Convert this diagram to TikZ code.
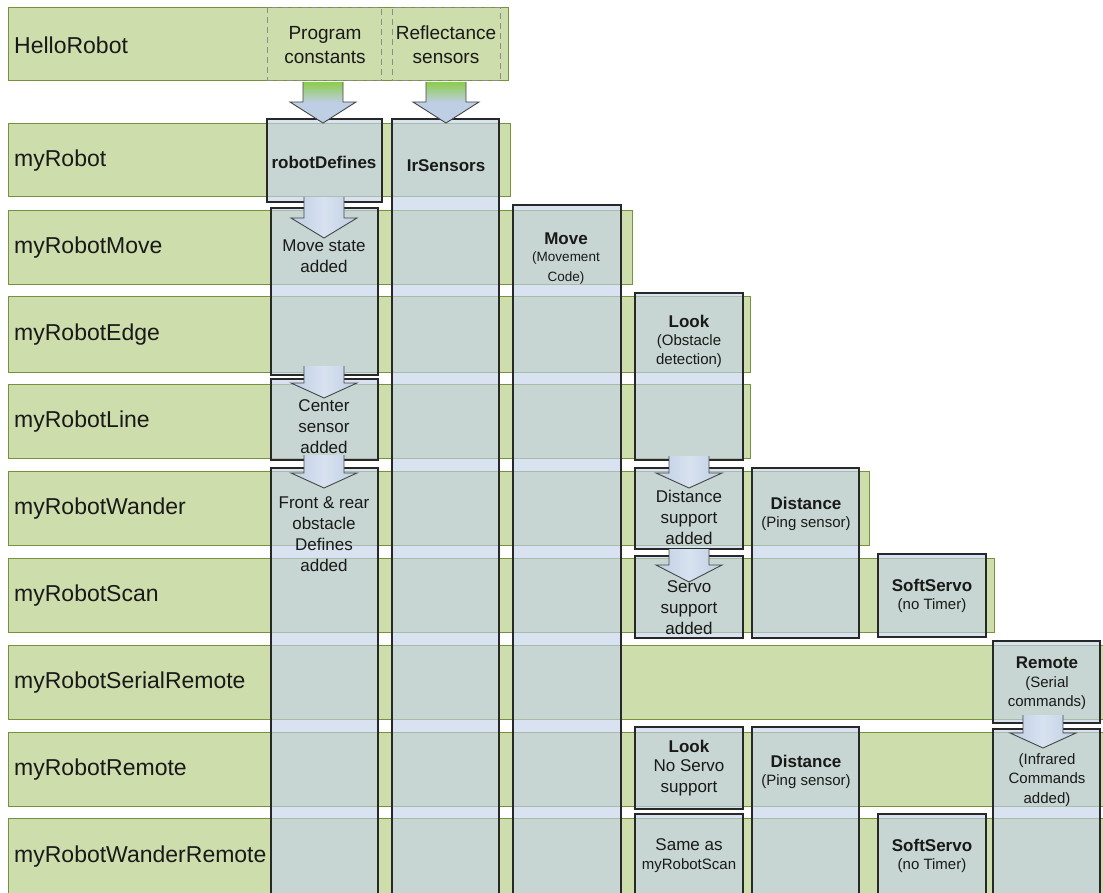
\documentclass[tikz,border=0pt]{standalone}
\usepackage{fontspec}
\setmainfont{Liberation Sans}
\definecolor{rowfill}{RGB}{205,221,172}
\definecolor{rowline}{RGB}{118,146,60}
\definecolor{colfill}{RGB}{197,211,232}
\definecolor{colline}{RGB}{40,40,40}
\definecolor{arrline}{RGB}{70,70,70}
\definecolor{agreen}{RGB}{140,205,75}
\definecolor{ablue}{RGB}{190,206,228}
\definecolor{alight}{RGB}{216,226,240}
\definecolor{txtc}{RGB}{25,25,25}
\definecolor{dashc}{RGB}{140,140,140}
\newcommand\bx[6]{\node[#2, minimum width={#5-#3}, minimum height={#6-#4}, anchor=north west] (#1) at (#3,#4) {};}
\newcommand\barrow[5]{%
  \path[#1] ({#2-20},#3) -- ({#2+20},#3) -- ({#2+20},#4) -- ({#2+33},#4) -- (#2,#5) -- ({#2-33},#4) -- ({#2-20},#4) -- cycle;
  \draw[arrowline] ({#2-20},#3) -- ({#2-20},#4) -- ({#2-33},#4) -- (#2,#5) -- ({#2+33},#4) -- ({#2+20},#4) -- ({#2+20},#3);}
\begin{document}
\begin{tikzpicture}[x=1pt,y=-1pt,
  rowbox/.style={draw=rowline, fill=rowfill, line width=1pt, inner sep=0pt, outer sep=0pt},
  dashbox/.style={draw=dashc, dashed, dash pattern=on 6pt off 4pt, line width=1pt, inner sep=0pt, outer sep=0pt},
  colbox/.style={draw=colline, fill=colfill, fill opacity=0.64, draw opacity=1, line width=1.3pt, inner sep=0pt, outer sep=0pt},
  arrowline/.style={draw=arrline, line width=0.9pt, line join=miter},
  greenarr/.style={shade, top color=agreen, bottom color=ablue, middle color=ablue},
  bluearr/.style={shade, left color=ablue, right color=ablue, middle color=alight},
  lbl/.style={anchor=west, inner sep=0pt, text=txtc, font=\fontsize{23}{28}\selectfont},
  big/.style={align=center, inner sep=0pt, text=txtc, font=\fontsize{19}{24}\selectfont},
  ttl/.style={align=center, inner sep=0pt, text=txtc, font=\bfseries\fontsize{17}{21}\selectfont},
  txt/.style={align=center, inner sep=0pt, text=txtc, font=\fontsize{17}{21}\selectfont},
  sub/.style={align=center, inner sep=0pt, text=txtc, font=\fontsize{15}{19.5}\selectfont},
  tiny/.style={align=center, inner sep=0pt, text=txtc, font=\fontsize{13.5}{20}\selectfont}]
\useasboundingbox (0,0) rectangle (1103,893);
\clip (0,0) rectangle (1103,893);
\fill[white] (0,0) rectangle (1103,893);
% rows
\bx{r0}{rowbox}{8}{8}{508}{81}
\bx{r1}{rowbox}{8}{124}{510}{197}
\bx{r2}{rowbox}{8}{211}{632}{285}
\bx{r3}{rowbox}{8}{297}{750}{372}
\bx{r4}{rowbox}{8}{384}{750}{458}
\bx{r5}{rowbox}{8}{471}{869}{545}
\bx{r6}{rowbox}{8}{558}{994}{632}
\bx{r7}{rowbox}{8}{645}{1115}{719}
\bx{r8}{rowbox}{8}{732}{1115}{806}
\bx{r9}{rowbox}{8}{818}{1115}{905}
% dashed sub-boxes
\bx{pc}{dashbox}{267}{8}{381}{81}
\bx{rs}{dashbox}{392}{8}{500}{81}
% column boxes
\bx{c1a}{colbox}{267}{119}{382}{202}
\bx{c1b}{colbox}{271}{208}{378}{375}
\bx{c1c}{colbox}{271}{379}{378}{460}
\bx{c1d}{colbox}{271}{468}{378}{905}
\bx{c2}{colbox}{392}{119}{499}{905}
\bx{c3}{colbox}{513}{205}{621}{905}
\bx{c4a}{colbox}{635}{293}{743}{460}
\bx{c4b}{colbox}{635}{468}{743}{549}
\bx{c4c}{colbox}{635}{556}{743}{638}
\bx{c4d}{colbox}{635}{727}{743}{809}
\bx{c4e}{colbox}{635}{814}{743}{905}
\bx{c5a}{colbox}{752}{468}{859}{638}
\bx{c5b}{colbox}{752}{727}{859}{905}
\bx{c6a}{colbox}{878}{554}{986}{637}
\bx{c6b}{colbox}{878}{814}{986}{905}
\bx{c7a}{colbox}{993}{641}{1100}{723}
\bx{c7b}{colbox}{993}{729}{1100}{905}
% arrows
\barrow{greenarr}{323}{82}{102}{123}
\barrow{greenarr}{446}{82}{102}{123}
\barrow{bluearr}{324}{197}{218}{238}
\barrow{bluearr}{324}{366}{383}{398}
\barrow{bluearr}{324}{455}{473}{488}
\barrow{bluearr}{689}{456}{473}{488}
\barrow{bluearr}{689}{549}{565}{582}
\barrow{bluearr}{1043}{715}{733}{748}
% row labels
\node[lbl] (l0) at (14,45) {HelloRobot};
\node[lbl] (l1) at (14,161) {myRobot};
\node[lbl] (l2) at (14,248) {myRobotMove};
\node[lbl] (l3) at (14,335) {myRobotEdge};
\node[lbl] (l4) at (14,422) {myRobotLine};
\node[lbl] (l5) at (14,509) {myRobotWander};
\node[lbl] (l6) at (14,596) {myRobotScan};
\node[lbl] (l7) at (14,683) {myRobotSerialRemote};
\node[lbl] (l8) at (14,770) {myRobotRemote};
\node[lbl] (l9) at (14,857) {myRobotWanderRemote};
% texts
\node[big] (tpc) at (325,45) {Program\\constants};
\node[big] (trs) at (446,45) {Reflectance\\sensors};
\node[ttl] (trd) at (324,162) {robotDefines};
\node[ttl] (tir) at (446,166) {IrSensors};
\node[txt] (tms) at (324,256) {Move state\\added};
\node[ttl] (tmv) at (566,239) {Move};
\node[tiny] (tmc) at (566,268) {(Movement\\Code)};
\node[ttl] (tlk) at (689,321) {Look};
\node[sub] (tod) at (689,351) {(Obstacle\\detection)};
\node[txt] (tcs) at (324,427) {Center\\sensor\\added};
\node[txt] (tfr) at (324,534) {Front \& rear\\obstacle\\Defines\\added};
\node[txt] (tds) at (689,517) {Distance\\support\\added};
\node[ttl] (tdi) at (806,503) {Distance};
\node[sub] (tps) at (806,524) {(Ping sensor)};
\node[txt] (tss) at (689,608) {Servo\\support\\added};
\node[ttl] (tso) at (932,585) {SoftServo};
\node[sub] (tnt) at (932,606) {(no Timer)};
\node[ttl] (tre) at (1047,663) {Remote};
\node[sub] (tsc) at (1047,693) {(Serial\\commands)};
\node[ttl] (tlk2) at (689,746) {Look};
\node[txt] (tns) at (689,778) {No Servo\\support};
\node[ttl] (tdi2) at (806,761) {Distance};
\node[sub] (tps2) at (806,782) {(Ping sensor)};
\node[sub] (tic) at (1047,780) {(Infrared\\Commands\\added)};
\node[txt] (tsa) at (689,845) {Same as};
\node[sub] (tmr) at (689,866) {myRobotScan};
\node[ttl] (tso2) at (932,845) {SoftServo};
\node[sub] (tnt2) at (932,866) {(no Timer)};
\end{tikzpicture}
\end{document}
